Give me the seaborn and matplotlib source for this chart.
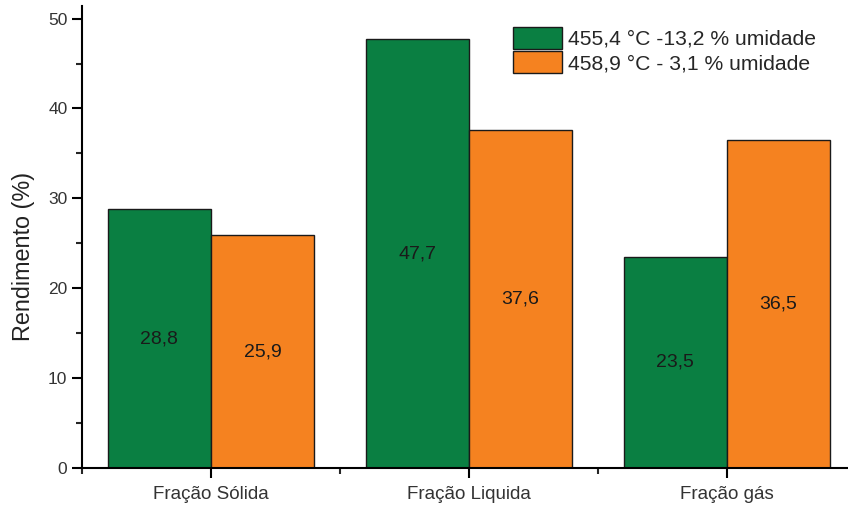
import matplotlib
matplotlib.use("Agg")
import matplotlib.pyplot as plt
import seaborn as sns
import pandas as pd
from matplotlib.ticker import MultipleLocator, FixedLocator

categories = ["Fração Sólida", "Fração Liquida", "Fração gás"]
series_names = ["455,4 °C -13,2 % umidade", "458,9 °C - 3,1 % umidade"]
values_wet = [28.8, 47.7, 23.5]
values_dry = [25.9, 37.6, 36.5]
palette = ["#0a7f42", "#f58220"]

df = pd.DataFrame({
    "fracao": categories * 2,
    "condicao": [series_names[0]] * 3 + [series_names[1]] * 3,
    "rendimento": values_wet + values_dry,
})

sns.set_style("ticks")
plt.rcParams["font.family"] = ["Liberation Sans", "DejaVu Sans"]

fig = plt.figure(figsize=(8.48, 5.07), dpi=100)
ax = fig.add_axes([82 / 848, 1 - 468 / 507, 766 / 848, (468 - 6) / 507])

sns.barplot(data=df, x="fracao", y="rendimento", hue="condicao",
            order=categories, hue_order=series_names, palette=palette,
            width=0.8, edgecolor="#1a1a1a", linewidth=1.0, saturation=1,
            errorbar=None, ax=ax)

for container in ax.containers:
    ax.bar_label(container, labels=[f"{v:.1f}".replace(".", ",") for v in container.datavalues],
                 label_type="center", fontsize=14, color="#1a1a1a")

ax.set_xlim(-0.5, 2.469)
ax.set_ylim(0, 51.4)
ax.yaxis.set_major_locator(MultipleLocator(10))
ax.yaxis.set_minor_locator(MultipleLocator(5))
ax.xaxis.set_minor_locator(FixedLocator([-0.5, 0.5, 1.5]))

ax.tick_params(axis="both", which="major", direction="out", length=7, width=1.5,
               colors="black", labelcolor="#333333")
ax.tick_params(axis="y", which="major", labelsize=12.5)
ax.tick_params(axis="x", which="major", labelsize=13.5, pad=6)
ax.tick_params(axis="both", which="minor", direction="out", length=4, width=1.5)

for side in ["top", "right"]:
    ax.spines[side].set_visible(False)
for side in ["left", "bottom"]:
    ax.spines[side].set_linewidth(1.5)
    ax.spines[side].set_color("black")

ax.set_xlabel("")
ax.set_ylabel("Rendimento (%)", fontsize=16.8, color="#222222")
ax.yaxis.set_label_coords(-0.062, 0.457)

leg = ax.legend(loc="upper left", bbox_to_anchor=(0.5627, 0.9545), frameon=False,
                fontsize=15.2, handlelength=2.3, handleheight=1.2,
                handletextpad=0.3, labelspacing=0.1, borderaxespad=0,
                borderpad=0)
for h in leg.legend_handles:
    h.set_edgecolor("#1a1a1a")
    h.set_linewidth(1.0)

fig.savefig("out.png", dpi=100)
